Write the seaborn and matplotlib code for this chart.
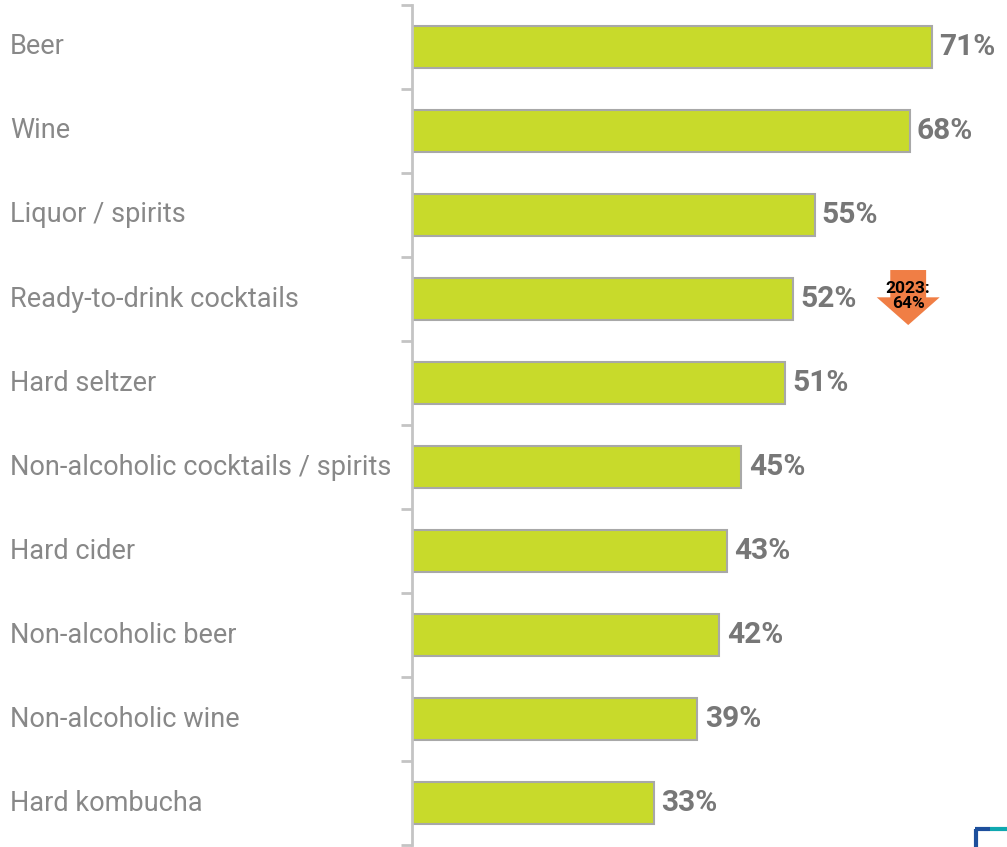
import matplotlib
matplotlib.use("Agg")
import matplotlib.pyplot as plt
import matplotlib.transforms as mtransforms
from matplotlib.patches import Polygon
import seaborn as sns
import pandas as pd
import numpy as np

categories = ["Beer", "Wine", "Liquor / spirits", "Ready-to-drink cocktails",
              "Hard seltzer", "Non-alcoholic cocktails / spirits", "Hard cider",
              "Non-alcoholic beer", "Non-alcoholic wine", "Hard kombucha"]
values = [71, 68, 55, 52, 51, 45, 43, 42, 39, 33]
note_category = "Ready-to-drink cocktails"
note_text = "2023:\n64%"

sns.set_theme(style="white")
plt.rcParams['font.family'] = ['Roboto', 'DejaVu Sans']

df = pd.DataFrame({"category": categories, "value": values})

fig = plt.figure(figsize=(10.07, 8.47), dpi=100)
ax = fig.add_axes([412/1007, 2/847, 595/1007, 840/847])

sns.barplot(data=df, x="value", y="category", order=categories, color="#c8da2b",
            width=0.5, edgecolor="#a8a8a8", linewidth=1.5, saturation=1, ax=ax)

ax.set_xlim(0, 81.3)
ax.set_ylim(len(categories) - 0.5, -0.5)
ax.set_xlabel("")
ax.set_ylabel("")
ax.set_xticks([])
ax.set_yticks([])
ax.set_yticks(np.arange(-0.5, len(categories), 1), minor=True)
ax.tick_params(axis="y", which="minor", length=8, width=2, color="#c4c4c4", direction="out", left=True)
ax.tick_params(axis="y", which="major", length=0)
for s in ["top", "right", "bottom"]:
    ax.spines[s].set_visible(False)
ax.spines["left"].set_color("#c4c4c4")
ax.spines["left"].set_linewidth(2)

trans = mtransforms.blended_transform_factory(fig.transFigure, ax.transData)
for i, (c, v) in enumerate(zip(categories, values)):
    ax.text(10/1007, i, c, transform=trans, ha="left", va="center",
            fontsize=19.5, color="#888888")
    ax.text(v + 1.0, i, f"{v}%", ha="left", va="center", fontsize=21.5,
            fontweight="bold", color="#777777")

# 2023 note arrow
idx = categories.index(note_category)
cx = values[idx] + 15.8
sw, hw = 2.45, 4.3
poly = Polygon([(cx - sw, idx - 0.345), (cx + sw, idx - 0.345), (cx + sw, idx - 0.02),
                (cx + hw, idx - 0.02), (cx, idx + 0.31), (cx - hw, idx - 0.02),
                (cx - sw, idx - 0.02)], closed=True, facecolor="#f07e45",
               edgecolor="none", zorder=3)
ax.add_patch(poly)
ax.text(cx, idx - 0.03, note_text, ha="center", va="center", fontsize=12.5,
        fontweight="bold", color="black", linespacing=1.0, zorder=4)

# corner logo mark
fig.add_artist(plt.Line2D([976/1007, 976/1007], [0, 18/847], transform=fig.transFigure,
                          color="#1d4f9c", linewidth=3, solid_capstyle="butt"))
fig.add_artist(plt.Line2D([975/1007, 990/1007], [18/847, 18/847], transform=fig.transFigure,
                          color="#1d4f9c", linewidth=3, solid_capstyle="butt"))
fig.add_artist(plt.Line2D([990/1007, 1007/1007], [18/847, 18/847], transform=fig.transFigure,
                          color="#10a8b0", linewidth=3, solid_capstyle="butt"))

fig.savefig("out.png", dpi=100)
